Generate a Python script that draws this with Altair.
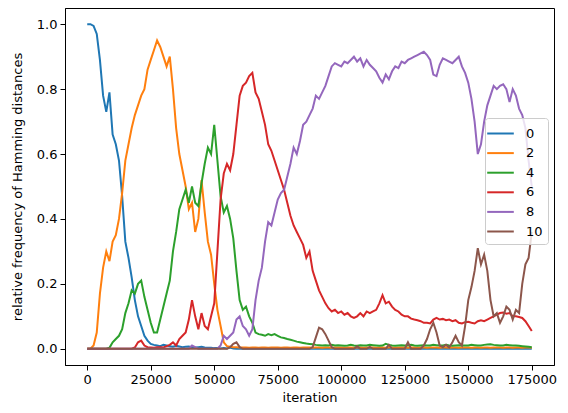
import altair as alt
import pandas as pd

# iteration grid (every 1250 iterations)
iterations = list(range(0, 175001, 1250))

labels = ["0", "2", "4", "6", "8", "10"]
colors = ["#1f77b4", "#ff7f0e", "#2ca02c", "#d62728", "#9467bd", "#8c564b"]

h0 = [
    1.0, 1.0, 0.995, 0.97, 0.89, 0.78, 0.73, 0.79, 0.66, 0.63,
    0.58, 0.47, 0.33, 0.28, 0.22, 0.15, 0.10, 0.07, 0.04, 0.025,
    0.015, 0.012, 0.010, 0.008, 0.012, 0.010, 0.008, 0.006, 0.009, 0.007,
    0.005, 0.006, 0.007, 0.005, 0.004, 0.005, 0.006, 0.004, 0.003, 0.003,
    0.002, 0.002, 0.001, 0.002, 0.001, 0.004, 0.001, 0.0, 0.0, 0.0,
    0, 0, 0, 0, 0, 0, 0, 0, 0, 0,
    0, 0, 0, 0, 0, 0, 0, 0, 0, 0,
    0, 0, 0, 0, 0, 0, 0, 0, 0, 0,
    0, 0, 0, 0, 0, 0, 0, 0, 0, 0,
    0, 0, 0, 0, 0, 0, 0, 0, 0, 0,
    0, 0, 0, 0, 0, 0, 0, 0, 0, 0,
    0, 0, 0, 0, 0, 0, 0, 0, 0, 0,
    0, 0, 0, 0, 0, 0, 0, 0, 0, 0,
    0, 0, 0, 0, 0, 0, 0, 0, 0, 0,
    0,
]

h2 = [
    0.0, 0.0, 0.01, 0.05, 0.17, 0.25, 0.30, 0.27, 0.33, 0.35,
    0.40, 0.48, 0.58, 0.63, 0.68, 0.72, 0.75, 0.78, 0.80, 0.86,
    0.89, 0.92, 0.95, 0.93, 0.90, 0.87, 0.90, 0.80, 0.68, 0.60,
    0.55, 0.50, 0.43, 0.45, 0.36, 0.40, 0.52, 0.42, 0.33, 0.29,
    0.20, 0.12, 0.07, 0.02, 0.008, 0.006, 0.005, 0.005, 0.004, 0.004,
    0.004, 0.003, 0.004, 0.004, 0.003, 0.004, 0.004, 0.003, 0.004, 0.004,
    0.004, 0.003, 0.004, 0.004, 0.003, 0.004, 0.004, 0.003, 0.004, 0.004,
    0.004, 0.003, 0.004, 0.004, 0.003, 0.004, 0.004, 0.003, 0.004, 0.004,
    0.004, 0.003, 0.004, 0.004, 0.003, 0.004, 0.004, 0.003, 0.004, 0.004,
    0.004, 0.003, 0.004, 0.004, 0.003, 0.004, 0.004, 0.003, 0.004, 0.004,
    0.004, 0.003, 0.004, 0.004, 0.003, 0.004, 0.004, 0.003, 0.004, 0.004,
    0.004, 0.003, 0.004, 0.004, 0.003, 0.004, 0.004, 0.003, 0.004, 0.004,
    0.004, 0.003, 0.004, 0.004, 0.003, 0.004, 0.004, 0.003, 0.004, 0.004,
    0.004, 0.003, 0.004, 0.004, 0.003, 0.004, 0.004, 0.003, 0.004, 0.004,
    0.003,
]

h4 = [
    0, 0, 0, 0, 0, 0, 0, 0.003, 0.02, 0.03,
    0.04, 0.06, 0.11, 0.14, 0.18, 0.17, 0.20, 0.21, 0.16, 0.12,
    0.08, 0.05, 0.05, 0.09, 0.13, 0.17, 0.21, 0.30, 0.36, 0.43,
    0.46, 0.49, 0.45, 0.50, 0.45, 0.44, 0.51, 0.57, 0.62, 0.60,
    0.69, 0.58, 0.47, 0.42, 0.44, 0.40, 0.34, 0.24, 0.15, 0.12,
    0.13, 0.10, 0.08, 0.05, 0.045, 0.043, 0.04, 0.045, 0.042, 0.045,
    0.04, 0.035, 0.033, 0.03, 0.028, 0.025, 0.022, 0.02, 0.018, 0.016,
    0.015, 0.014, 0.012, 0.011, 0.01, 0.011, 0.01, 0.012, 0.01, 0.011,
    0.01, 0.009, 0.01, 0.012, 0.01, 0.009, 0.011, 0.01, 0.01, 0.012,
    0.011, 0.01, 0.009, 0.01, 0.015, 0.012, 0.01, 0.009, 0.01, 0.011,
    0.01, 0.01, 0.012, 0.01, 0.009, 0.01, 0.011, 0.01, 0.01, 0.012,
    0.011, 0.01, 0.01, 0.012, 0.01, 0.009, 0.01, 0.011, 0.01, 0.01,
    0.01, 0.012, 0.011, 0.01, 0.01, 0.012, 0.013, 0.014, 0.012, 0.011,
    0.01, 0.01, 0.012, 0.011, 0.01, 0.01, 0.009, 0.008, 0.007, 0.006,
    0.005,
]

h6 = [
    0, 0, 0, 0, 0, 0, 0, 0, 0, 0,
    0, 0, 0, 0, 0, 0.004, 0.02, 0.025, 0.01, 0.005,
    0.004, 0.003, 0.005, 0.005, 0.004, 0.008, 0.012, 0.02, 0.01, 0.03,
    0.04, 0.05, 0.09, 0.15, 0.10, 0.06, 0.11, 0.07, 0.06, 0.10,
    0.14, 0.30, 0.46, 0.54, 0.57, 0.55, 0.60, 0.69, 0.78, 0.81,
    0.82, 0.84, 0.85, 0.79, 0.77, 0.73, 0.69, 0.63, 0.61, 0.58,
    0.55, 0.52, 0.49, 0.45, 0.41, 0.38, 0.36, 0.34, 0.32, 0.28,
    0.30, 0.24, 0.21, 0.18, 0.16, 0.14, 0.125, 0.115, 0.12, 0.11,
    0.115, 0.105, 0.11, 0.10, 0.095, 0.10, 0.11, 0.10, 0.115, 0.11,
    0.115, 0.12, 0.14, 0.165, 0.14, 0.145, 0.13, 0.12, 0.115, 0.105,
    0.10, 0.10, 0.093, 0.09, 0.088, 0.085, 0.08, 0.08, 0.078, 0.09,
    0.095, 0.09, 0.092, 0.088, 0.09, 0.085, 0.088, 0.08, 0.078, 0.082,
    0.083, 0.08, 0.078, 0.085, 0.088, 0.085, 0.09, 0.095, 0.10, 0.105,
    0.11, 0.112, 0.108, 0.11, 0.10, 0.10, 0.098, 0.095, 0.085, 0.07,
    0.055,
]

h8 = [
    0, 0, 0, 0, 0, 0, 0, 0, 0, 0,
    0, 0, 0, 0, 0, 0, 0, 0, 0, 0,
    0, 0, 0, 0, 0, 0, 0, 0, 0, 0,
    0, 0, 0, 0.01, 0.005, 0, 0, 0, 0, 0,
    0, 0, 0.01, 0.04, 0.03, 0.04, 0.05, 0.09, 0.10, 0.07,
    0.06, 0.04, 0.06, 0.15, 0.21, 0.25, 0.33, 0.39, 0.38, 0.42,
    0.46, 0.48, 0.49, 0.53, 0.57, 0.62, 0.60, 0.64, 0.69, 0.70,
    0.72, 0.74, 0.78, 0.77, 0.79, 0.81, 0.84, 0.87, 0.88, 0.875,
    0.87, 0.885, 0.88, 0.89, 0.90, 0.885, 0.895, 0.87, 0.89, 0.875,
    0.865, 0.855, 0.835, 0.82, 0.845, 0.83, 0.855, 0.87, 0.865, 0.885,
    0.88, 0.89, 0.895, 0.90, 0.905, 0.91, 0.915, 0.905, 0.89, 0.845,
    0.84, 0.875, 0.895, 0.89, 0.885, 0.88, 0.89, 0.90, 0.87, 0.85,
    0.82, 0.77, 0.70, 0.60, 0.63, 0.70, 0.75, 0.78, 0.81, 0.80,
    0.81, 0.815, 0.80, 0.76, 0.80, 0.78, 0.74, 0.72, 0.68, 0.58,
    0.50,
]

h10 = [
    0, 0, 0, 0, 0, 0, 0, 0, 0, 0,
    0, 0, 0, 0, 0, 0, 0, 0, 0, 0,
    0, 0, 0, 0, 0, 0, 0, 0, 0, 0,
    0, 0, 0, 0, 0, 0, 0, 0, 0, 0,
    0, 0, 0, 0, 0, 0.005, 0.015, 0.02, 0.005, 0,
    0, 0, 0, 0, 0, 0, 0, 0, 0, 0,
    0, 0, 0, 0, 0, 0, 0, 0, 0, 0,
    0, 0.005, 0.035, 0.065, 0.06, 0.045, 0.025, 0.005, 0, 0,
    0, 0, 0, 0, 0, 0.008, 0, 0, 0, 0.006,
    0, 0, 0, 0, 0, 0.012, 0, 0, 0, 0,
    0, 0.02, 0, 0, 0, 0, 0.01, 0.03, 0.06, 0.08,
    0.05, 0.01, 0.005, 0.012, 0.004, 0.02, 0.04, 0.02, 0.01, 0.07,
    0.15, 0.19, 0.24, 0.31, 0.26, 0.29, 0.24, 0.15, 0.10, 0.11,
    0.08, 0.10, 0.13, 0.12, 0.09, 0.12, 0.11, 0.20, 0.26, 0.28,
    0.36,
]

series = [h0, h2, h4, h6, h8, h10]
rows = []
for lab, vals in zip(labels, series):
    for it, v in zip(iterations, vals):
        rows.append({"iteration": it, "distance": lab, "freq": v})
df = pd.DataFrame(rows)

x_ticks = [0, 25000, 50000, 75000, 100000, 125000, 150000, 175000]
y_ticks = [0.0, 0.2, 0.4, 0.6, 0.8, 1.0]

chart = alt.Chart(df).mark_line(strokeWidth=2, clip=True).encode(
    x=alt.X(
        "iteration:Q",
        scale=alt.Scale(domain=[-8750, 183750], nice=False, zero=False),
        axis=alt.Axis(values=x_ticks, format="d", title="iteration", grid=False,
                      labelPadding=3, titlePadding=5),
    ),
    y=alt.Y(
        "freq:Q",
        scale=alt.Scale(domain=[-0.05, 1.05], nice=False, zero=False),
        axis=alt.Axis(values=y_ticks, format=".1f",
                      title="relative frequency of Hamming distances", grid=False,
                      labelPadding=3, titlePadding=12),
    ),
    color=alt.Color(
        "distance:N",
        sort=labels,
        scale=alt.Scale(domain=labels, range=colors),
        legend=alt.Legend(
            title=None, orient="none", legendX=420, legendY=110,
            symbolType="M-1.4,0L1.4,0", symbolSize=361, symbolStrokeWidth=2,
            labelFont="DejaVu Sans", labelFontSize=13, labelColor="black",
            labelOffset=15, fillColor="rgba(255,255,255,0.8)",
            strokeColor="#cccccc", cornerRadius=3, padding=5, rowPadding=1.6,
        ),
    ),
).properties(
    width=489, height=357,
    padding={"left": 57, "top": 0, "right": 6, "bottom": 40},
    autosize=alt.AutoSizeParams(type="none"),
).configure_view(
    stroke="black", strokeWidth=1
).configure_axis(
    labelFont="DejaVu Sans", labelFontSize=13, labelColor="black",
    titleFont="DejaVu Sans", titleFontSize=13, titleColor="black",
    titleFontWeight="normal", tickColor="black", tickSize=5,
    domainColor="black",
)

chart.save("out.html", embed_options={"renderer": "svg", "actions": False})
